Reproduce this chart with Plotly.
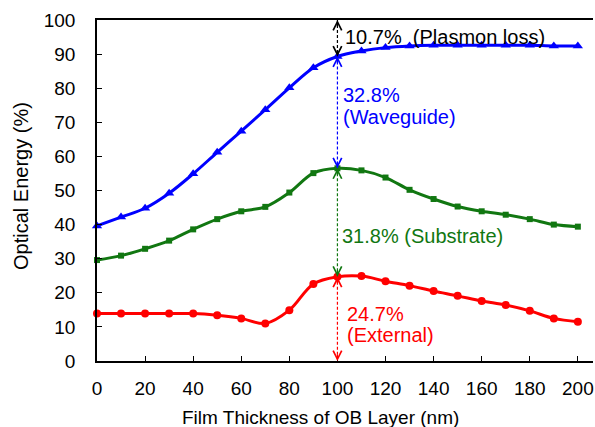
import plotly.graph_objects as go

thickness = [0, 10, 20, 30, 40, 50, 60, 70, 80, 90, 100, 110, 120, 130, 140, 150, 160, 170, 180, 190, 200]
external = [13.9, 13.9, 13.9, 13.9, 13.9, 13.4, 12.5, 11.0, 14.9, 22.6, 24.7, 24.9, 23.4, 22.1, 20.5, 19.1, 17.6, 16.4, 14.7, 12.5, 11.5]
substrate = [29.6, 30.9, 32.9, 35.3, 38.6, 41.6, 43.9, 45.2, 49.4, 55.1, 56.5, 55.9, 53.8, 50.2, 47.5, 45.3, 43.9, 42.9, 41.6, 40.0, 39.4]
waveguide = [39.6, 42.2, 44.8, 49.2, 54.9, 61.2, 67.4, 73.7, 80.1, 86.0, 89.3, 90.9, 91.9, 92.4, 92.6, 92.6, 92.6, 92.6, 92.6, 92.4, 92.4]

x_ticks = [0, 20, 40, 60, 80, 100, 120, 140, 160, 180, 200]
y_ticks = [0, 10, 20, 30, 40, 50, 60, 70, 80, 90, 100]

# breakdown at 100 nm
mark_x = 100
levels = [100, 89.3, 56.5, 24.7, 0]
seg_colors = ["black", "#0000FF", "#117711", "#FF0000"]
# label lines: (text, y value, colour, x pixel shift)
label_lines = [
    ("10.7%  (Plasmon loss)", 95.0, "black", 6),
    ("32.8%", 78.0, "#0000FF", 4),
    ("(Waveguide)", 71.6, "#0000FF", 4),
    ("31.8% (Substrate)", 36.7, "#117711", 3),
    ("24.7%", 13.8, "#FF0000", 8),
    ("(External)", 7.5, "#FF0000", 8),
]

FONT = "Liberation Sans, Arial, sans-serif"
TICK_SIZE = 19
TEXT_SIZE = 20

fig = go.Figure()
series = [
    (waveguide, "#0000FF", "triangle-up", 9),
    (substrate, "#117711", "square", 6),
    (external, "#FF0000", "circle", 8),
]
for vals, col, sym, sz in series:
    fig.add_trace(go.Scatter(
        x=thickness, y=vals, mode="lines+markers",
        line=dict(color=col, width=3, shape="spline", smoothing=1.0),
        marker=dict(color=col, symbol=sym, size=sz),
        showlegend=False, cliponaxis=False,
    ))

annotations = []
shapes = []
for i in range(4):
    top, bot = levels[i], levels[i + 1]
    col = seg_colors[i]
    shapes.append(dict(type="line", xref="x", yref="y", x0=mark_x, x1=mark_x, y0=top, y1=bot,
                       line=dict(color=col, width=1.2, dash="3px,2px")))
    annotations.append(dict(x=mark_x, y=top, xref="x", yref="y", ax=0, ay=8, text="",
                            showarrow=True, arrowhead=5, arrowsize=1.4, arrowwidth=1.2,
                            arrowcolor=col, standoff=0))
    annotations.append(dict(x=mark_x, y=bot, xref="x", yref="y", ax=0, ay=-8, text="",
                            showarrow=True, arrowhead=5, arrowsize=1.4, arrowwidth=1.2,
                            arrowcolor=col, standoff=0))

for txt, yv, col, xs in label_lines:
    annotations.append(dict(x=mark_x, y=yv, xref="x", yref="y", text=txt, xshift=xs,
                            showarrow=False, xanchor="left", yanchor="middle", align="left",
                            font=dict(family=FONT, size=TEXT_SIZE, color=col)))

# axis titles placed as text in pixel-derived paper coordinates
L, T, W, H = 97, 20, 496, 341
annotations.append(dict(x=(320 - L) / W, y=1 - (417 - T) / H, xref="paper", yref="paper",
                        text="Film Thickness of OB Layer (nm)", showarrow=False,
                        xanchor="center", yanchor="middle",
                        font=dict(family=FONT, size=19, color="black")))
annotations.append(dict(x=(21 - L) / W, y=1 - (186 - T) / H, xref="paper", yref="paper",
                        text="Optical Energy (%)", showarrow=False, textangle=-90,
                        xanchor="center", yanchor="middle",
                        font=dict(family=FONT, size=TEXT_SIZE, color="black")))

fig.update_layout(
    width=595, height=427,
    margin=dict(l=L, r=595 - L - W, t=T, b=427 - T - H),
    paper_bgcolor="white", plot_bgcolor="white",
    font=dict(family=FONT, size=TICK_SIZE, color="black"),
    shapes=shapes,
    annotations=annotations,
    xaxis=dict(range=[0, 206.3], tickvals=x_ticks, ticks="inside", ticklen=5, tickwidth=1.2,
               tickcolor="black", showline=True, linecolor="black", linewidth=1.5, mirror=True,
               showgrid=False, zeroline=False, ticklabelstandoff=9,
               tickfont=dict(family=FONT, size=TICK_SIZE)),
    yaxis=dict(range=[0, 100], tickvals=y_ticks, ticks="inside", ticklen=5, tickwidth=1.2,
               tickcolor="black", showline=True, linecolor="black", linewidth=1.5,
               showgrid=False, zeroline=False, ticklabelstandoff=16,
               tickfont=dict(family=FONT, size=TICK_SIZE)),
)

fig.write_html("out.html")
